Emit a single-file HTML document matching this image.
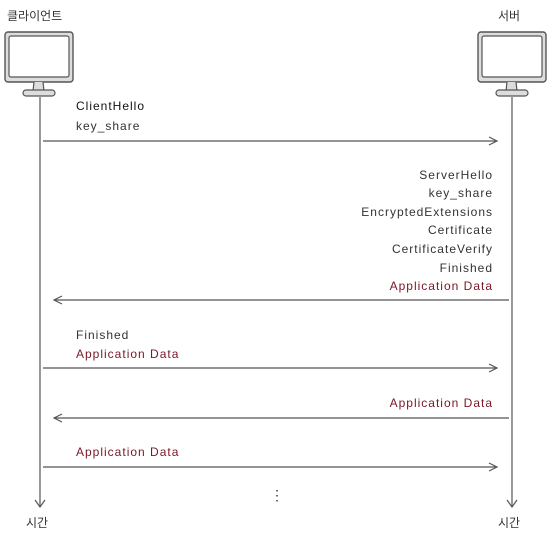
<!DOCTYPE html>
<html><head><meta charset="utf-8"><style>
body{margin:0;background:#fff;width:550px;height:534px;overflow:hidden;font-family:"Liberation Sans","Noto Sans CJK KR",sans-serif;}
svg text{font-family:"Liberation Sans","Noto Sans CJK KR",sans-serif;font-size:12px;fill:#333;letter-spacing:1px;}
.r{fill:#7a1626 !important;}
</style></head><body>
<svg width="550" height="534" viewBox="0 0 550 534">
<defs>
<g id="mon">
<rect x="0" y="0" width="68" height="50" rx="3" fill="#ddd" stroke="#555" stroke-width="1.4"/>
<rect x="4" y="4" width="60" height="41" rx="2" fill="#fff" stroke="#555" stroke-width="1.2"/>
<path d="M29 50 L28 59 L39 59 L38 50" fill="#ddd" stroke="#555" stroke-width="1.2"/>
<rect x="18" y="58" width="32" height="6" rx="3" fill="#ddd" stroke="#555" stroke-width="1.2"/>
</g>
</defs>
<text x="7" y="20" style="letter-spacing:0">클라이언트</text>
<text x="498" y="20" style="letter-spacing:0">서버</text>
<use href="#mon" x="5" y="32"/>
<use href="#mon" x="478" y="32"/>
<g stroke="#555" stroke-width="1.2" fill="none">
<line x1="40" y1="97" x2="40" y2="506"/>
<line x1="512" y1="97" x2="512" y2="506"/>
<polyline points="35,500 40,507 45,500"/>
<polyline points="507,500 512,507 517,500"/>
<line x1="43" y1="141" x2="497" y2="141"/><polyline points="489,137 497,141 489,145"/>
<line x1="509" y1="300" x2="54" y2="300"/><polyline points="62,296 54,300 62,304"/>
<line x1="43" y1="368" x2="497" y2="368"/><polyline points="489,364 497,368 489,372"/>
<line x1="509" y1="418" x2="54" y2="418"/><polyline points="62,414 54,418 62,422"/>
<line x1="43" y1="467" x2="497" y2="467"/><polyline points="489,463 497,467 489,471"/>
</g>
<text x="76" y="110" style="fill:#111">ClientHello</text>
<text x="76" y="130">key_share</text>
<g text-anchor="end">
<text x="493" y="179">ServerHello</text>
<text x="493" y="197">key_share</text>
<text x="493" y="216">EncryptedExtensions</text>
<text x="493" y="234">Certificate</text>
<text x="493" y="253">CertificateVerify</text>
<text x="493" y="272">Finished</text>
<text x="493" y="290" class="r">Application Data</text>
<text x="493" y="407" class="r">Application Data</text>
</g>
<text x="76" y="339">Finished</text>
<text x="76" y="358" class="r">Application Data</text>
<text x="76" y="456" class="r">Application Data</text>
<text x="270" y="500" style="font-size:14px">⋮</text>
<text x="26" y="527" style="letter-spacing:0">시간</text>
<text x="498" y="527" style="letter-spacing:0">시간</text>
</svg>
</body></html>
